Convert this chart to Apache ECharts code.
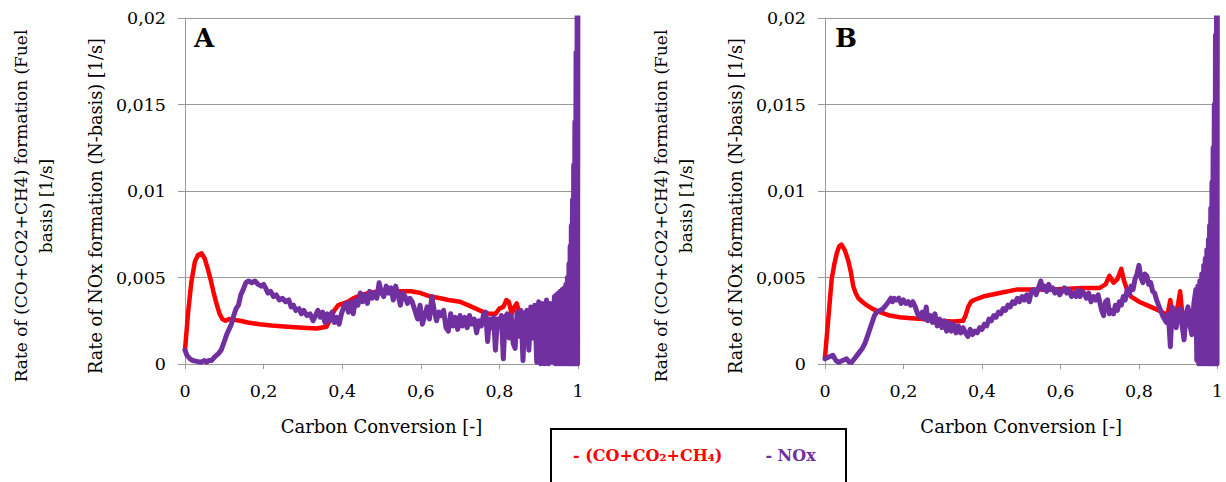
<!DOCTYPE html>
<html>
<head>
<meta charset="utf-8">
<script src="https://cdn.jsdelivr.net/npm/echarts@6/dist/echarts.min.js"></script>
<style>html,body{margin:0;padding:0;background:#fff;}#c{width:1226px;height:482px;}</style>
</head>
<body>
<div id="c"></div>
<script>
const CO_NAME = '(CO+CO\u2082+CH\u2084)';
const NOX_NAME = 'NOx';
const xTicks = [0, 0.2, 0.4, 0.6, 0.8, 1];
const yTicks = [0, 0.005, 0.01, 0.015, 0.02];
const panelLabels = ['A', 'B'];
const xTitle = 'Carbon Conversion [-]';
const yTitleOuter = 'Rate of (CO+CO2+CH4) formation (Fuel\nbasis) [1/s]';
const yTitleInner = 'Rate of NOx formation (N-basis) [1/s]';

const coA = [[0,0.0008],[0.008,0.003],[0.016,0.0047],[0.025,0.0059],[0.033,0.0063],[0.042,0.0064],[0.05,0.0061],[0.058,0.0055],[0.065,0.0049],[0.072,0.0042],[0.08,0.0035],[0.088,0.0029],[0.095,0.0026],[0.103,0.0025],[0.112,0.0026],[0.125,0.00255],[0.14,0.0025],[0.16,0.0024],[0.19,0.0023],[0.22,0.00222],[0.26,0.00215],[0.3,0.0021],[0.335,0.00205],[0.36,0.00215],[0.37,0.0026],[0.38,0.0031],[0.39,0.0034],[0.403,0.0035],[0.415,0.0036],[0.428,0.0038],[0.45,0.004],[0.47,0.0041],[0.49,0.0042],[0.52,0.0042],[0.55,0.0042],[0.575,0.0042],[0.6,0.0041],[0.625,0.0039],[0.65,0.0038],[0.67,0.0037],[0.7,0.0036],[0.72,0.0034],[0.74,0.0032],[0.76,0.003],[0.775,0.0029],[0.79,0.0029],[0.8,0.0032],[0.81,0.0033],[0.818,0.0037],[0.824,0.0036],[0.831,0.0029],[0.838,0.0033],[0.844,0.0035],[0.85,0.003],[0.86,0.0028],[0.87,0.0029],[0.878,0.0031],[0.89,0.0028],[0.903,0.0027],[0.915,0.0029],[0.929,0.0031],[0.94,0.0027],[0.95,0.003],[0.96,0.0028],[0.97,0.0032],[0.98,0.0036]];

const noxA = [[0,0.0008],[0.005,0.0005],[0.013,0.0003],[0.02,0.0002],[0.03,0.00015],[0.04,0.0001],[0.05,0.0002],[0.055,0.0001],[0.06,0.0002],[0.068,0.0002],[0.075,0.0004],[0.085,0.0006],[0.092,0.0008],[0.1,0.0013],[0.106,0.0017],[0.112,0.002],[0.118,0.0023],[0.124,0.0028],[0.13,0.0032],[0.136,0.0034],[0.142,0.004],[0.148,0.0043],[0.155,0.0047],[0.162,0.0048],[0.17,0.0047],[0.178,0.0048],[0.186,0.0046],[0.194,0.0045],[0.2,0.0046],[0.205,0.0044],[0.211,0.0041],[0.218,0.0042],[0.225,0.0039],[0.232,0.004],[0.24,0.0037],[0.248,0.0038],[0.256,0.0036],[0.264,0.0037],[0.27,0.0033],[0.276,0.0034],[0.282,0.0031],[0.29,0.0032],[0.296,0.0029],[0.302,0.0031],[0.31,0.0028],[0.318,0.0029],[0.326,0.0025],[0.332,0.0028],[0.338,0.0031],[0.344,0.0027],[0.35,0.003],[0.356,0.0024],[0.362,0.0029],[0.368,0.0025],[0.374,0.003],[0.38,0.0024],[0.386,0.0027],[0.392,0.0023],[0.398,0.0029],[0.404,0.0033],[0.41,0.0035],[0.416,0.003],[0.422,0.0036],[0.428,0.0029],[0.434,0.0037],[0.44,0.0034],[0.446,0.0041],[0.452,0.0036],[0.458,0.004],[0.464,0.0035],[0.47,0.0042],[0.476,0.0038],[0.482,0.0041],[0.488,0.0038],[0.494,0.0047],[0.5,0.0041],[0.506,0.0039],[0.512,0.0045],[0.518,0.0041],[0.524,0.0044],[0.53,0.0037],[0.536,0.0045],[0.542,0.004],[0.548,0.0034],[0.554,0.0041],[0.56,0.0039],[0.566,0.0035],[0.572,0.0038],[0.578,0.0036],[0.585,0.0031],[0.592,0.0026],[0.598,0.0034],[0.604,0.0023],[0.61,0.0028],[0.616,0.0033],[0.622,0.0026],[0.628,0.0039],[0.634,0.0031],[0.64,0.0025],[0.646,0.003],[0.652,0.0028],[0.658,0.0031],[0.664,0.0021],[0.67,0.0019],[0.676,0.0029],[0.682,0.0022],[0.688,0.0027],[0.694,0.002],[0.7,0.0028],[0.706,0.0022],[0.712,0.0027],[0.718,0.0021],[0.724,0.0028],[0.73,0.0023],[0.736,0.0026],[0.742,0.0018],[0.748,0.0025],[0.754,0.0022],[0.76,0.0029],[0.765,0.003],[0.77,0.0013],[0.775,0.0026],[0.78,0.0021],[0.785,0.0027],[0.79,0.0008],[0.795,0.0026],[0.8,0.0022],[0.805,0.0028],[0.81,0.0003],[0.815,0.0027],[0.82,0.0029],[0.825,0.0015],[0.83,0.0028],[0.835,0.0012],[0.84,0.0009],[0.845,0.003],[0.85,0.0016],[0.855,0.0031],[0.86,0.0002],[0.865,0.0029],[0.87,0.0031],[0.875,0.0008],[0.88,0.0033],[0.885,0.0015],[0.89,0.0034],[0.895,0.0001],[0.9,0.0036],[0.905,0],[0.91,0.0035],[0.915,0],[0.92,0.0037],[0.925,0],[0.93,0.0035],[0.935,0.0001],[0.94,0.0039],[0.9425,0],[0.945,0.004],[0.9475,0],[0.95,0.0041],[0.9525,0],[0.955,0.0042],[0.9575,0],[0.96,0.0043],[0.9625,0],[0.965,0.0044],[0.967,0],[0.969,0.0046],[0.971,0],[0.973,0.005],[0.975,0],[0.977,0.0058],[0.9785,0],[0.98,0.0068],[0.9815,0],[0.983,0.008],[0.9845,0],[0.986,0.0095],[0.9875,0],[0.989,0.0115],[0.9905,0],[0.992,0.014],[0.9935,0],[0.995,0.018],[0.9965,0],[0.998,0.024],[0.999,0],[1,0.03]];

const coB = [[0,0.0004],[0.008,0.0025],[0.017,0.0049],[0.024,0.0058],[0.03,0.0064],[0.036,0.0068],[0.042,0.0069],[0.05,0.0066],[0.059,0.006],[0.066,0.0053],[0.072,0.0045],[0.078,0.0041],[0.085,0.0038],[0.095,0.0036],[0.106,0.0034],[0.12,0.0032],[0.14,0.003],[0.165,0.0028],[0.19,0.0027],[0.22,0.00265],[0.25,0.0026],[0.29,0.0025],[0.326,0.00245],[0.352,0.0025],[0.358,0.0028],[0.365,0.0033],[0.372,0.0036],[0.38,0.0037],[0.403,0.0039],[0.445,0.0041],[0.488,0.0043],[0.53,0.0043],[0.573,0.0043],[0.62,0.00435],[0.657,0.0044],[0.7,0.0044],[0.715,0.0046],[0.725,0.0051],[0.735,0.0047],[0.745,0.0049],[0.755,0.0055],[0.762,0.0048],[0.77,0.0043],[0.78,0.0039],[0.8,0.0036],[0.82,0.0034],[0.84,0.0032],[0.86,0.003],[0.87,0.0028],[0.875,0.0031],[0.88,0.0037],[0.885,0.0028],[0.892,0.0027],[0.9,0.0035],[0.905,0.0042],[0.91,0.003],[0.915,0.0028],[0.925,0.0031],[0.94,0.003],[0.955,0.0032],[0.97,0.0035]];

const noxB = [[0,0.0003],[0.01,0.0004],[0.02,0.0005],[0.028,0.0002],[0.035,0.0001],[0.045,0.0002],[0.055,0.0003],[0.062,0.0001],[0.068,0.0001],[0.075,0.0003],[0.085,0.0006],[0.095,0.0009],[0.102,0.0012],[0.108,0.0016],[0.114,0.002],[0.12,0.0024],[0.126,0.0028],[0.132,0.003],[0.14,0.0031],[0.148,0.0032],[0.155,0.0034],[0.162,0.0036],[0.168,0.0038],[0.172,0.0036],[0.176,0.0038],[0.182,0.0037],[0.188,0.0038],[0.194,0.0035],[0.2,0.0037],[0.206,0.0035],[0.212,0.0036],[0.218,0.0034],[0.224,0.0036],[0.23,0.0033],[0.236,0.0029],[0.242,0.0027],[0.248,0.003],[0.254,0.0026],[0.258,0.0033],[0.262,0.0025],[0.268,0.0028],[0.274,0.0024],[0.28,0.0029],[0.286,0.0022],[0.292,0.0026],[0.298,0.0021],[0.304,0.0025],[0.31,0.0019],[0.316,0.0024],[0.322,0.0019],[0.328,0.0023],[0.334,0.0018],[0.34,0.0022],[0.346,0.0018],[0.352,0.0021],[0.358,0.0018],[0.364,0.0016],[0.37,0.002],[0.376,0.0017],[0.382,0.0019],[0.388,0.0018],[0.394,0.0021],[0.4,0.002],[0.406,0.0023],[0.412,0.0022],[0.418,0.0026],[0.424,0.0025],[0.43,0.0028],[0.436,0.0027],[0.442,0.003],[0.448,0.0029],[0.454,0.0032],[0.46,0.0031],[0.466,0.0034],[0.472,0.0033],[0.478,0.0036],[0.484,0.0035],[0.49,0.0038],[0.496,0.0036],[0.502,0.0039],[0.508,0.0037],[0.514,0.004],[0.52,0.0036],[0.526,0.0042],[0.532,0.0043],[0.538,0.004],[0.544,0.0044],[0.55,0.0048],[0.555,0.0043],[0.56,0.0045],[0.565,0.0042],[0.57,0.0046],[0.575,0.0043],[0.58,0.0044],[0.586,0.0041],[0.592,0.0043],[0.598,0.004],[0.604,0.0042],[0.61,0.0044],[0.616,0.0041],[0.622,0.0043],[0.628,0.0039],[0.634,0.0041],[0.64,0.0039],[0.645,0.0043],[0.65,0.0039],[0.655,0.0042],[0.66,0.0041],[0.666,0.0038],[0.672,0.0041],[0.678,0.0036],[0.684,0.0039],[0.69,0.0037],[0.696,0.004],[0.7,0.0036],[0.705,0.0031],[0.71,0.0028],[0.715,0.0036],[0.72,0.0037],[0.725,0.0029],[0.73,0.0031],[0.735,0.0029],[0.74,0.0034],[0.745,0.0031],[0.75,0.0036],[0.755,0.0034],[0.76,0.0039],[0.765,0.0037],[0.77,0.0043],[0.775,0.004],[0.78,0.0045],[0.785,0.0043],[0.79,0.0049],[0.795,0.0052],[0.8,0.0057],[0.805,0.005],[0.81,0.0047],[0.815,0.0052],[0.82,0.0051],[0.825,0.0046],[0.83,0.0047],[0.835,0.0042],[0.84,0.0041],[0.845,0.0037],[0.85,0.0034],[0.855,0.0031],[0.862,0.0027],[0.87,0.0024],[0.875,0.0029],[0.88,0.001],[0.885,0.0033],[0.89,0.0026],[0.895,0.0021],[0.9,0.0031],[0.905,0.0032],[0.91,0.0022],[0.915,0.0014],[0.92,0.0029],[0.925,0.0033],[0.93,0.0022],[0.935,0.0017],[0.94,0.0035],[0.945,0.0043],[0.9475,0.0002],[0.95,0.0045],[0.9525,0],[0.955,0.0048],[0.9575,0],[0.96,0.0052],[0.9625,0],[0.965,0.0057],[0.967,0],[0.969,0.0061],[0.971,0],[0.973,0.0066],[0.975,0],[0.977,0.0072],[0.9785,0],[0.98,0.008],[0.9815,0],[0.983,0.009],[0.9845,0],[0.986,0.0105],[0.9875,0],[0.989,0.0125],[0.9905,0],[0.992,0.015],[0.9935,0],[0.995,0.019],[0.9965,0],[0.998,0.025],[0.999,0],[1,0.03]];

const FONT = 'DejaVu Serif';
const RED = '#ff0000';
const PURPLE = '#7030a0';
const GRIDC = '#9a9a9a';
const comma = v => String(v).replace('.', ',');

const gridLefts = [185, 825];
const grids = gridLefts.map(l => ({left: l, top: 18, width: 393, height: 346, containLabel: false}));

const xAxes = gridLefts.map((l, i) => ({
  type: 'value', gridIndex: i, min: xTicks[0], max: xTicks[xTicks.length - 1], interval: 0.2,
  name: xTitle, nameLocation: 'middle', nameGap: 53,
  nameTextStyle: {fontFamily: FONT, fontSize: 18, color: '#000'},
  axisLine: {show: true, lineStyle: {color: GRIDC, width: 1}},
  axisTick: {show: true, length: 5, lineStyle: {color: GRIDC}},
  axisLabel: {fontFamily: FONT, fontSize: 17.5, color: '#000', margin: 18, formatter: comma},
  splitLine: {show: false}
}));

const yAxes = gridLefts.map((l, i) => ({
  type: 'value', gridIndex: i, min: yTicks[0], max: yTicks[yTicks.length - 1], interval: 0.005,
  axisLine: {show: true, lineStyle: {color: GRIDC, width: 1}},
  axisTick: {show: true, length: 7, lineStyle: {color: GRIDC}},
  axisLabel: {fontFamily: FONT, fontSize: 17.5, color: '#000', margin: 19, formatter: comma},
  splitLine: {show: true, lineStyle: {color: GRIDC, width: 1}}
}));

const mkLine = (name, data, idx, color, w) => ({
  name, type: 'line', xAxisIndex: idx, yAxisIndex: idx, data, showSymbol: false, symbol: 'none',
  smooth: false, clip: true, lineStyle: {color, width: w, join: 'round', cap: 'round'}, itemStyle: {color},
  emphasis: {disabled: true}, animation: false
});

const series = [
  mkLine(CO_NAME, coA, 0, RED, 4.5), mkLine(NOX_NAME, noxA, 0, PURPLE, 5),
  mkLine(CO_NAME, coB, 1, RED, 4.5), mkLine(NOX_NAME, noxB, 1, PURPLE, 5)
];

const graphics = [];
[33, 673].forEach((x) => {
  graphics.push({type: 'text', x: x, y: 206, rotation: Math.PI / 2,
    style: {text: yTitleOuter, fontFamily: FONT, fontSize: 17, fill: '#000', align: 'center', verticalAlign: 'middle', lineHeight: 25}});
});
[96, 736].forEach((x) => {
  graphics.push({type: 'text', x: x, y: 206, rotation: Math.PI / 2,
    style: {text: yTitleInner, fontFamily: FONT, fontSize: 17.7, fill: '#000', align: 'center', verticalAlign: 'middle'}});
});
[204, 846].forEach((x, i) => {
  graphics.push({type: 'text', x: x, y: 38,
    style: {text: panelLabels[i], fontFamily: FONT, fontWeight: 'bold', fontSize: 26, fill: '#000', align: 'center', verticalAlign: 'middle'}});
});
graphics.push({type: 'rect', shape: {x: 551, y: 429, width: 295, height: 70}, style: {fill: 'none', stroke: '#000', lineWidth: 2}});

const chart = echarts.init(document.getElementById('c'), null, {renderer: 'svg'});
chart.setOption({
  animation: false,
  backgroundColor: '#fff',
  grid: grids,
  xAxis: xAxes,
  yAxis: yAxes,
  series: series,
  legend: {
    left: 563, top: 442, icon: 'none', itemWidth: 0, itemHeight: 0, itemGap: 38, selectedMode: false,
    textStyle: {fontFamily: FONT, fontWeight: 'bold', fontSize: 16},
    formatter: n => '- ' + n,
    data: [{name: CO_NAME, textStyle: {color: RED}}, {name: NOX_NAME, textStyle: {color: PURPLE}}]
  },
  graphic: graphics
});
</script>
</body>
</html>
